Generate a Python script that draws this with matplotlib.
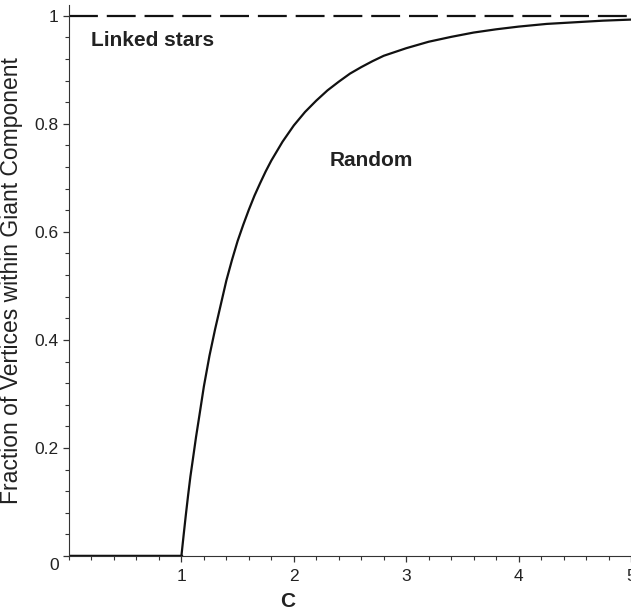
import matplotlib
matplotlib.use("Agg")
import matplotlib.pyplot as plt
import matplotlib.transforms as mtransforms
from matplotlib.ticker import MultipleLocator

plt.rcParams['font.family'] = ['Liberation Sans', 'DejaVu Sans']

# values
c_vals = [0, 1.0, 1.02, 1.04, 1.06, 1.08, 1.1, 1.13, 1.16, 1.2, 1.25, 1.3,
          1.35, 1.4, 1.45, 1.5, 1.55, 1.6, 1.65, 1.7, 1.75, 1.8, 1.9, 2.0,
          2.1, 2.2, 2.3, 2.4, 2.5, 2.6, 2.7, 2.8, 3.0, 3.2, 3.4, 3.6, 3.8,
          4.0, 4.25, 4.5, 4.75, 5.0]
frac_random = [0, 0, 0.039, 0.077, 0.113, 0.147, 0.176, 0.22, 0.26, 0.314,
               0.371, 0.42, 0.465, 0.51, 0.548, 0.583, 0.613, 0.641, 0.667,
               0.69, 0.712, 0.732, 0.767, 0.797, 0.822, 0.843, 0.862, 0.878,
               0.893, 0.905, 0.916, 0.926, 0.940, 0.952, 0.961, 0.969, 0.975,
               0.980, 0.985, 0.988, 0.991, 0.993]
linked_c = [0, 5.0]
linked_frac = [1.0, 1.0]

fig = plt.figure(figsize=(6.31, 6.13), dpi=100)
ax = fig.add_axes([69 / 631, 57 / 613, 562 / 631, 551 / 613])

ax.plot(c_vals, frac_random, color='#111111', lw=1.6, solid_joinstyle='round')
ax.plot(c_vals[:2], frac_random[:2], color='#111111', lw=2.4)
ax.plot(linked_c, linked_frac, color='#111111', lw=1.6, dashes=(13, 4))

ax.set_xlim(0, 5.0)
ax.set_ylim(0, 1.02)

for s in ['top', 'right']:
    ax.spines[s].set_visible(False)
ax.spines['left'].set_color('#333333')
ax.spines['bottom'].set_color('#333333')

ax.set_xticks([1, 2, 3, 4, 5])
ax.set_yticks([0, 0.2, 0.4, 0.6, 0.8, 1])
ax.set_yticklabels(['0', '0.2', '0.4', '0.6', '0.8', '1'])
ax.xaxis.set_minor_locator(MultipleLocator(0.2))
ax.yaxis.set_minor_locator(MultipleLocator(0.04))
ax.tick_params(which='major', length=4.5, width=0.9, labelsize=12.5,
               color='#333333', labelcolor='#222222')
ax.tick_params(which='minor', length=3, width=0.8, color='#333333')
ax.tick_params(axis='x', which='major', pad=5)
ax.tick_params(axis='y', which='major', pad=3)

# the "0" label sits a little below its tick in the reference
lab0 = ax.get_yticklabels()[0]
lab0.set_transform(lab0.get_transform() +
                   mtransforms.ScaledTranslation(0, -6 / 72, fig.dpi_scale_trans))

ax.set_xlabel('C', fontsize=15, fontweight='bold', color='#222222')
ax.xaxis.set_label_coords(0.39, -0.065)
ax.set_ylabel('Fraction of Vertices within Giant Component', fontsize=16.5,
              color='#222222')
ax.yaxis.set_label_coords(-0.082, 0.50)

ax.text(0.2, 0.955, 'Linked stars', fontsize=15, fontweight='bold',
        color='#222222', va='center', ha='left')
ax.text(2.32, 0.733, 'Random', fontsize=15, fontweight='bold',
        color='#222222', va='center', ha='left')

fig.savefig('out.png', dpi=100)
